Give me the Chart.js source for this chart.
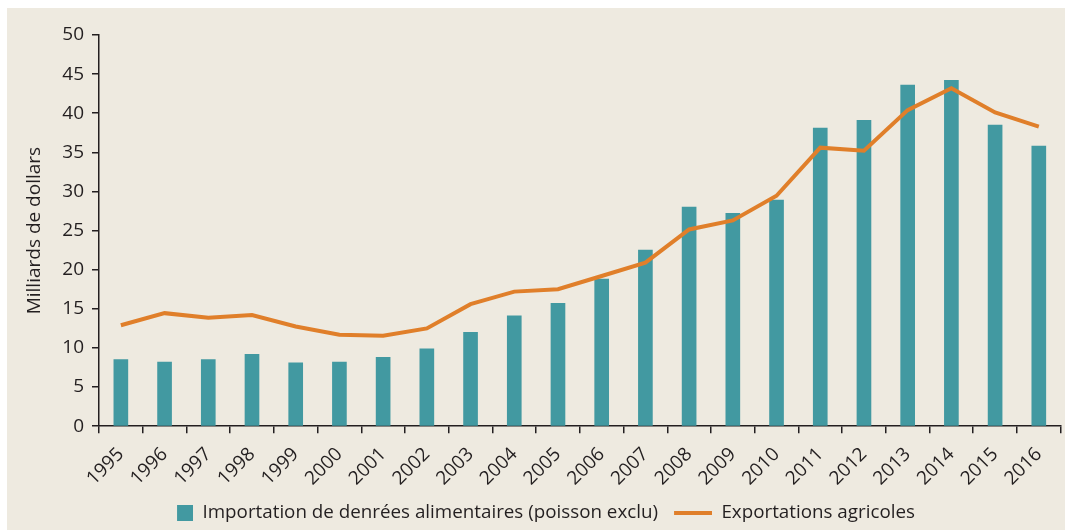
<!DOCTYPE html>
<html lang="fr">
<head>
<meta charset="utf-8">
<script src="https://cdn.jsdelivr.net/npm/chart.js@4.4.1/dist/chart.umd.min.js"></script>
<style>
  html, body { margin: 0; padding: 0; background: #ffffff; overflow: hidden; }
  #bg { position: absolute; left: 7px; top: 8px; width: 1058px; height: 522px; background: #eeeae0; }
  #chart { position: absolute; left: 0; top: 0; }
</style>
</head>
<body>
<div id="bg"></div>
<canvas id="chart" width="1065" height="532"></canvas>
<script>
// Years on the x axis
const years = ['1995', '1996', '1997', '1998', '1999', '2000', '2001', '2002', '2003', '2004', '2005',
  '2006', '2007', '2008', '2009', '2010', '2011', '2012', '2013', '2014', '2015', '2016'];

// Billions of dollars
const foodImports = [8.5, 8.2, 8.5, 9.2, 8.1, 8.2, 8.8, 9.9, 12.0, 14.1, 15.7,
  18.8, 22.5, 28.0, 27.2, 28.9, 38.1, 39.1, 43.6, 44.2, 38.5, 35.8];
const agriExports = [12.9, 14.45, 13.85, 14.2, 12.75, 11.7, 11.55, 12.5, 15.6, 17.2, 17.5,
  19.2, 20.9, 25.15, 26.3, 29.45, 35.6, 35.2, 40.4, 43.2, 40.1, 38.3];

const yTickStep = 5;
const yMax = 50;

const TEAL = '#4299a1';
const ORANGE = '#e07f2a';
const TEXT = '#231f20';
const FONT = { family: '"Open Sans", "Noto Sans", sans-serif', size: 19 };
const LEGEND_FONT = { family: '"Open Sans", "Noto Sans", sans-serif', size: 18.8 };

// Legend swatches: a square for the bars, a short stroke for the line.
// Both share one box width so the text lines up the same way.
const ICON_W = 46;
function makeIcon(w, h, draw) {
  const c = document.createElement('canvas');
  c.width = w;
  c.height = h;
  draw(c.getContext('2d'));
  return c;
}
const barIcon = makeIcon(ICON_W, 16, (ctx) => { ctx.fillStyle = TEAL; ctx.fillRect(ICON_W - 16, 0, 16, 16); });
const lineIcon = makeIcon(ICON_W, 4, (ctx) => { ctx.fillStyle = ORANGE; ctx.fillRect(ICON_W - 38, 0, 38, 4); });

const axisGrid = { display: true, drawOnChartArea: false, drawTicks: true, tickLength: 7, color: TEXT, lineWidth: 1.5 };
const axisBorder = { display: true, color: TEXT, width: 1.5 };

new Chart(document.getElementById('chart'), {
  type: 'bar',
  data: {
    labels: years,
    datasets: [
      {
        type: 'bar',
        label: 'Importation de denrées alimentaires (poisson exclu)',
        data: foodImports,
        backgroundColor: TEAL,
        barThickness: 14,
        order: 2,
      },
      {
        type: 'line',
        label: 'Exportations agricoles',
        data: agriExports,
        borderColor: ORANGE,
        backgroundColor: ORANGE,
        borderWidth: 4,
        pointRadius: 0,
        tension: 0,
        fill: false,
        order: 1,
      },
    ],
  },
  options: {
    responsive: false,
    devicePixelRatio: 1,
    animation: false,
    layout: { padding: { left: 0, right: 3, top: 35, bottom: 0 } },
    plugins: {
      tooltip: { enabled: false },
      legend: {
        display: true,
        position: 'bottom',
        labels: {
          usePointStyle: true,
          pointStyleWidth: ICON_W,
          padding: 8,
          color: TEXT,
          font: LEGEND_FONT,
          generateLabels: (chart) => chart.data.datasets.map((ds, i) => ({
            text: ds.label,
            pointStyle: i === 0 ? barIcon : lineIcon,
            datasetIndex: i,
            hidden: false,
            lineWidth: 0,
            fontColor: TEXT,
          })),
        },
      },
    },
    scales: {
      x: {
        grid: axisGrid,
        border: axisBorder,
        ticks: { color: TEXT, font: FONT, minRotation: 45, maxRotation: 45, autoSkip: false, padding: 10 },
        afterFit: (s) => { s.height = 69; },
      },
      y: {
        min: 0,
        max: yMax,
        grid: axisGrid,
        border: axisBorder,
        ticks: { stepSize: yTickStep, color: TEXT, font: FONT, padding: 8 },
        title: { display: true, text: 'Milliards de dollars', color: TEXT, font: FONT, padding: { top: 23, bottom: 0 } },
        afterFit: (s) => { s.width = 99; },
      },
    },
  },
});
</script>
</body>
</html>
